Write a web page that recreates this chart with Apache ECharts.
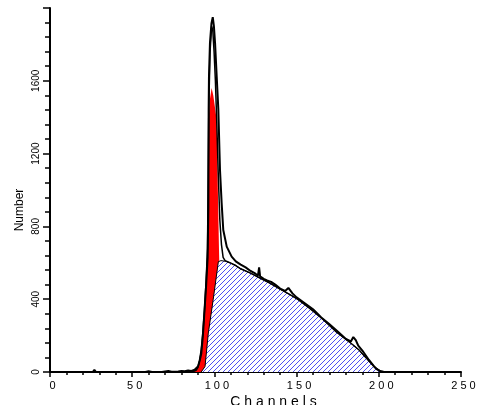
<!DOCTYPE html>
<html>
<head>
<meta charset="utf-8">
<script src="https://cdn.jsdelivr.net/npm/echarts/dist/echarts.min.js"></script>
<style>
html,body{margin:0;padding:0;background:#fff;}
#chart{width:479px;height:405px;}
</style>
</head>
<body>
<div id="chart"></div>
<script>
// ---- Data ----
// Raw histogram (black, noisy)
const dataX = [0, 26, 27, 28, 40, 41, 42, 58, 60, 62, 66, 67, 68, 72, 74, 78, 80, 82, 84, 86, 88, 89, 90, 91, 92, 93, 94, 95, 95.9, 96.3, 96.5, 96.7, 97.3, 98.2, 99, 99.7, 100.4, 101.4, 102.4, 103.4, 104.4, 105.4, 107.5, 110.5, 113, 116, 119, 122, 125, 126.5, 127.2, 127.8, 130, 132, 133, 134.5, 137, 140, 143, 145, 146, 147.5, 150, 155, 160, 165, 170, 175, 180, 183, 184.5, 186, 187.5, 190, 194, 197, 199, 201, 203, 250];
const dataY = [0, 0, 12, 0, 0, 5, 0, 0, 4, 0, 0, 6, 0, 5, 2, 3, 6, 4, 8, 6, 12, 18, 30, 60, 100, 200, 340, 480, 630, 900, 1440, 1623, 1808, 1915, 1950, 1900, 1808, 1623, 1440, 1110, 929, 780, 689, 634, 608, 590, 575, 555, 540, 530, 575, 525, 512, 503, 510, 495, 480, 458, 445, 462, 468, 432, 410, 378, 345, 300, 262, 222, 182, 168, 192, 175, 145, 118, 66, 32, 14, 3, 0, 0];

// Fitted model (black, smooth)
const fitX = [86, 89, 90, 91, 92, 93, 94, 95, 95.8, 96.2, 96.6, 97.3, 98.3, 99, 99.8, 100.6, 101.4, 102.3, 103.3, 104.3, 105.3, 106.5, 108, 110, 113, 116, 122, 128, 134, 140, 146, 151, 158, 166, 174, 182, 188, 194, 198, 201, 204, 250];
const fitY = [0, 10, 25, 65, 125, 220, 345, 510, 680, 1050, 1450, 1750, 1900, 1880, 1760, 1600, 1385, 1100, 835, 700, 630, 612, 606, 598, 585, 567, 543, 515, 487, 455, 425, 398, 350, 290, 221, 166, 121, 60, 22, 5, 0, 0];

// G1 peak (red)
const g1X = [87, 89, 90, 91, 92, 93, 94, 95, 95.8, 96.2, 96.5, 97.3, 98.3, 99.3, 100.4, 101.4, 102.1, 102.8, 103.5, 104.5, 106, 108];
const g1Y = [0, 8, 22, 60, 121, 210, 330, 489, 640, 1000, 1385, 1500, 1560, 1520, 1450, 1385, 1000, 670, 380, 150, 40, 0];

// S phase (blue hatched)
const sX = [92, 94.3, 96.3, 99.3, 102.4, 104, 107, 110, 113, 116, 122, 128, 134, 140, 146, 151, 158, 166, 174, 182, 188, 194, 198, 201, 204];
const sY = [0, 30, 214, 400, 606, 612, 608, 598, 585, 567, 543, 515, 487, 455, 425, 398, 350, 290, 221, 166, 121, 60, 22, 5, 0];

// Axis settings
const xTicks = {min: 0, max: 250, interval: 50};
const yTicks = {min: 0, max: 2000, interval: 400};
const xName = 'C h a n n e l s';
const yName = 'Number';

function pairs(xs, ys) { return xs.map((x, i) => [x, ys[i]]); }

// hatch pattern
const pat = document.createElement('canvas');
pat.width = 5; pat.height = 5;
const pctx = pat.getContext('2d');
pctx.fillStyle = '#ffffff';
pctx.fillRect(0, 0, 5, 5);
pctx.fillStyle = '#4f4ff2';
for (let i = 0; i < 5; i++) pctx.fillRect(i, 4 - i, 1, 1);

const FONT = 'Liberation Sans';
const chart = echarts.init(document.getElementById('chart'), null, {renderer: 'canvas'});
chart.setOption({
  animation: false,
  backgroundColor: '#ffffff',
  grid: {left: 50, right: 18, top: 8, bottom: 33, containLabel: false, outerBoundsMode: 'none'},
  xAxis: {
    type: 'value', min: xTicks.min, max: xTicks.max, interval: xTicks.interval,
    name: xName, nameLocation: 'middle', nameGap: 23, nameMoveOverlap: false,
    nameTextStyle: {fontFamily: FONT, fontSize: 14, color: '#000', padding: [0, 0, 0, 36]},
    axisLine: {show: true, onZero: false, lineStyle: {color: '#000', width: 2}},
    axisTick: {show: true, inside: false, length: 5, lineStyle: {color: '#000', width: 1.5}},
    minorTick: {show: true, splitNumber: 5, length: 3, lineStyle: {color: '#000', width: 1.5}},
    axisLabel: {
      fontFamily: FONT, fontSize: 11, color: '#000', margin: 8, padding: [0, 0, 0, 5],
      formatter: v => String(v).split('').join(' ')
    },
    splitLine: {show: false}
  },
  yAxis: {
    type: 'value', min: yTicks.min, max: yTicks.max, interval: yTicks.interval,
    name: yName, nameLocation: 'middle', nameGap: 30, nameRotate: 90, nameMoveOverlap: false,
    nameTextStyle: {fontFamily: FONT, fontSize: 12, color: '#000', padding: [0, 40, 0, 0], verticalAlign: 'middle'},
    axisLine: {show: true, onZero: false, lineStyle: {color: '#000', width: 2}},
    axisTick: {show: true, inside: false, length: 7, lineStyle: {color: '#000', width: 1.5}},
    minorTick: {show: true, splitNumber: 5, length: 5, lineStyle: {color: '#000', width: 1.5}},
    axisLabel: {
      fontFamily: FONT, fontSize: 10, color: '#000', margin: 9, rotate: 90,
      formatter: v => (v === 2000 ? '' : String(v))
    },
    splitLine: {show: false}
  },
  series: [
    {
      name: 'G1', type: 'line', data: pairs(g1X, g1Y), symbol: 'none', z: 2,
      lineStyle: {width: 0}, areaStyle: {color: '#ff0000', opacity: 1}
    },
    {
      name: 'S', type: 'line', data: pairs(sX, sY), symbol: 'none', z: 3,
      lineStyle: {width: 1, color: '#000'},
      areaStyle: {color: {image: pat, repeat: 'repeat'}, opacity: 1}
    },
    {
      name: 'Fit', type: 'line', data: pairs(fitX, fitY), symbol: 'none', z: 4,
      lineStyle: {width: 1.5, color: '#000'}
    },
    {
      name: 'Data', type: 'line', data: pairs(dataX, dataY), symbol: 'none', z: 5,
      lineStyle: {width: 2, color: '#000'}
    }
  ]
});
</script>
</body>
</html>
